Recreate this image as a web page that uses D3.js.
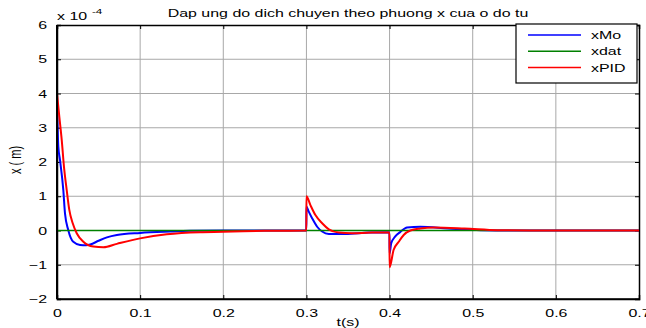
<!DOCTYPE html>
<html><head><meta charset="utf-8">
<script src="https://cdn.jsdelivr.net/npm/d3@7"></script>
<style>body{margin:0;background:#fff}svg{display:block}text{font-family:"Liberation Sans",Arial,sans-serif;fill:#000}</style>
</head><body>
<script>
const title = "Dap ung do dich chuyen theo phuong x cua o do tu";
const xLabel = "t(s)";
const yLabel = "x ( m)";
const seriesNames = ["xMo", "xdat", "xPID"];
const seriesColors = ["#0000ff", "#008000", "#ff0000"];
const xTicks = [0, 0.1, 0.2, 0.3, 0.4, 0.5, 0.6, 0.7];
const yTicks = [-2, -1, 0, 1, 2, 3, 4, 5, 6];

// values in units of 1e-4 m
const tMo = [0, 0.0016, 0.0036, 0.0076, 0.0096, 0.0136, 0.0196, 0.0277, 0.035, 0.04, 0.05, 0.06, 0.072, 0.1, 0.136, 0.16, 0.2, 0.2999,
  0.3, 0.3028, 0.3068, 0.3129, 0.3189, 0.327, 0.347, 0.375, 0.3999,
  0.4, 0.402, 0.4066, 0.413, 0.421, 0.437, 0.47, 0.51, 0.55, 0.7];
const xMo = [3.66, 2.45, 2.06, 1.18, 0.5, 0.01, -0.33, -0.42, -0.43, -0.41, -0.3, -0.2, -0.13, -0.07, -0.03, -0.01, 0, 0,
  0.7, 0.55, 0.36, 0.11, -0.03, -0.1, -0.1, -0.06, -0.05,
  -0.67, -0.37, -0.18, -0.04, 0.09, 0.11, 0.06, 0.01, 0, 0];

const tPID = [0, 0.0028, 0.0057, 0.0084, 0.0117, 0.0148, 0.0189, 0.0237, 0.0317, 0.0437, 0.0558, 0.072, 0.1, 0.132, 0.172, 0.2, 0.25, 0.2999,
  0.3, 0.3048, 0.3108, 0.3189, 0.3269, 0.3389, 0.355, 0.379, 0.3999,
  0.4, 0.4048, 0.411, 0.417, 0.425, 0.437, 0.453, 0.49, 0.53, 0.57, 0.7];
const xPID = [4.0, 3.32, 2.64, 1.86, 1.18, 0.6, 0.21, -0.08, -0.33, -0.47, -0.49, -0.39, -0.23, -0.11, -0.05, -0.04, -0.01, 0,
  1.0, 0.74, 0.45, 0.21, 0.035, -0.06, -0.08, -0.06, -0.06,
  -1.07, -0.57, -0.33, -0.13, 0, 0.06, 0.09, 0.06, 0.01, 0, 0];

const tDat = [0, 0.7];
const xDat = [0, 0];

const W = 646, H = 328, SX = 1.45;
const m = {l: 57, r: 639, t: 25, b: 299};
const svg = d3.select("body").append("svg").attr("width", W).attr("height", H);
const x = d3.scaleLinear().domain([0, 0.7]).range([m.l, m.r]);
const y = d3.scaleLinear().domain([-2, 6]).range([m.b, m.t]);

function stext(g, px, py, str, anchor, size) {
  return g.append("text").attr("transform", `translate(${px},${py}) scale(${SX},1)`)
    .attr("text-anchor", anchor || "start").attr("font-size", size || 11).text(str);
}

// grid
svg.append("g").selectAll("line").data(xTicks.slice(1, -1)).join("line")
  .attr("x1", d => x(d)).attr("x2", d => x(d)).attr("y1", m.t).attr("y2", m.b)
  .attr("stroke", "#a8a8a8").attr("stroke-width", 1);
svg.append("g").selectAll("line").data(yTicks.slice(1, -1)).join("line")
  .attr("y1", d => y(d)).attr("y2", d => y(d)).attr("x1", m.l).attr("x2", m.r)
  .attr("stroke", "#a8a8a8").attr("stroke-width", 1);

// axes with inward ticks
const fmtX = d => d === 0 ? "0" : d3.format(".1f")(d);
const axB = svg.append("g").attr("transform", `translate(0,${m.b})`)
  .call(d3.axisBottom(x).tickValues(xTicks).tickSize(-4).tickPadding(10).tickFormat(fmtX));
const axT = svg.append("g").attr("transform", `translate(0,${m.t})`)
  .call(d3.axisTop(x).tickValues(xTicks).tickSize(-4).tickFormat(""));
const axL = svg.append("g").attr("transform", `translate(${m.l},0)`)
  .call(d3.axisLeft(y).tickValues(yTicks).tickSize(-4).tickPadding(10).tickFormat(d3.format("d")));
const axR = svg.append("g").attr("transform", `translate(${m.r},0)`)
  .call(d3.axisRight(y).tickValues(yTicks).tickSize(-4).tickFormat(""));
[axB, axT, axL, axR].forEach(a => {
  a.select(".domain").attr("stroke", "#000").attr("stroke-width", 1.5);
  a.selectAll(".tick line").attr("stroke", "#000");
  a.selectAll("text").attr("font-size", 11).attr("font-family", '"Liberation Sans",Arial,sans-serif')
    .each(function () {
      const xx = +(this.getAttribute("x") || 0);
      this.setAttribute("x", xx / SX);
      this.setAttribute("transform", `scale(${SX},1)`);
    });
});

// lines
const line = d3.line().x(d => x(d[0])).y(d => y(d[1])).curve(d3.curveMonotoneX);
const series = [
  {t: tMo, v: xMo, c: seriesColors[0], w: 2},
  {t: tDat, v: xDat, c: seriesColors[1], w: 1.6},
  {t: tPID, v: xPID, c: seriesColors[2], w: 2}
];
svg.append("clipPath").attr("id", "clip").append("rect")
  .attr("x", m.l).attr("y", m.t).attr("width", m.r - m.l).attr("height", m.b - m.t);
series.forEach(s => {
  svg.append("path").datum(s.t.map((t, i) => [t, s.v[i]]))
    .attr("d", line).attr("fill", "none").attr("stroke", s.c)
    .attr("stroke-width", s.w).attr("clip-path", "url(#clip)");
});

// redraw left/bottom axis lines on top
svg.append("line").attr("x1", m.l).attr("x2", m.l).attr("y1", m.t).attr("y2", m.b).attr("stroke", "#000").attr("stroke-width", 2);
svg.append("line").attr("x1", m.l).attr("x2", m.r).attr("y1", m.b).attr("y2", m.b).attr("stroke", "#000").attr("stroke-width", 1.5);

// texts
stext(svg, (m.l + m.r) / 2, 17, title, "middle");
stext(svg, (m.l + m.r) / 2, 326, xLabel, "middle");
svg.append("text").attr("transform", `translate(21,160) rotate(-90) scale(1,${SX})`).attr("text-anchor", "middle")
  .attr("font-size", 11).text(yLabel);
const ex = stext(svg, 57, 20, "x 10");
stext(svg, 92, 14, "-4", "start", 8);

// legend
const lg = svg.append("g");
lg.append("rect").attr("x", 516).attr("y", 24).attr("width", 121).attr("height", 59)
  .attr("fill", "#fff").attr("stroke", "#000").attr("stroke-width", 1.2);
seriesNames.forEach((n, i) => {
  const yy = 35 + i * 16.3;
  lg.append("line").attr("x1", 528).attr("x2", 581).attr("y1", yy).attr("y2", yy)
    .attr("stroke", seriesColors[i]).attr("stroke-width", 1.5);
  stext(lg, 591, yy + 4, n);
});
</script>
</body></html>
